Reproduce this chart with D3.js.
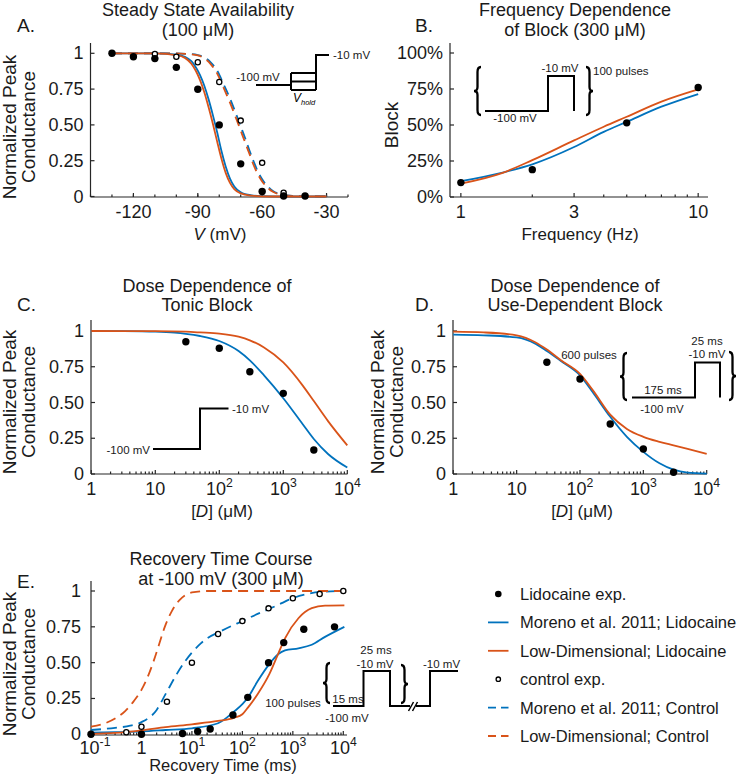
<!DOCTYPE html>
<html><head><meta charset="utf-8">
<script src="https://cdn.jsdelivr.net/npm/d3@7"></script>
<style>
body{margin:0;background:#fff}
svg{display:block}
text{font-family:"Liberation Sans",Arial,Helvetica,sans-serif;fill:#1a1a1a}
</style>
</head><body>
<svg id="c" width="738" height="774"></svg>
<script>
// ---------------- DATA ----------------
// Panel A: steady state availability (100 uM)
const A_expV      = [-130,-120,-110,-100,-90,-80,-70,-60,-50,-40];
const A_lidoExp   = [1.0,0.976,0.963,0.902,0.749,0.5,0.228,0.035,0.004,0.004];
const A_ctrlV     = [-110,-100,-90,-80,-70,-60,-50];
const A_ctrlExp   = [0.995,0.976,0.937,0.80,0.53,0.235,0.027];
const A_curveV    = [-130,-110,-100,-96,-93,-91,-89,-87,-85,-83,-81,-79,-77,-75,-73,-70,-65,-60,-50,-30];
const A_morenoLido= [1,0.999,0.99,0.975,0.945,0.905,0.85,0.775,0.68,0.57,0.45,0.32,0.21,0.125,0.07,0.03,0.008,0.002,0,0];
const A_lowLido   = [1,0.999,0.987,0.968,0.927,0.88,0.815,0.73,0.625,0.51,0.385,0.265,0.165,0.095,0.052,0.022,0.006,0.0015,0,0];
const A_ctrlCurveV= [-130,-100,-95,-90,-87,-84,-81,-78,-75,-72,-70,-68,-66,-64,-62,-60,-57,-55,-52,-50,-45,-40,-30];
const A_morenoCtrl= [1,1,0.996,0.988,0.972,0.937,0.88,0.785,0.685,0.57,0.49,0.41,0.325,0.245,0.175,0.12,0.064,0.039,0.018,0.011,0.004,0.001,0];
const A_lowCtrl   = [1,1,0.995,0.985,0.965,0.925,0.86,0.76,0.655,0.54,0.46,0.38,0.30,0.22,0.155,0.105,0.055,0.033,0.015,0.009,0.003,0.001,0];
const A_xTicks    = [-120,-90,-60,-30];
const A_xTickLabels = ["-120","-90","-60","-30"];

// Panel B: frequency dependence of block (300 uM)
const B_freq      = [1,2,5,10];
const B_lidoExp   = [0.10,0.19,0.515,0.76];
const B_curveF    = [1,1.5,2,3,4,5,7,10];
const B_moreno    = [0.11,0.17,0.227,0.347,0.452,0.522,0.627,0.715];
const B_lowDim    = [0.093,0.168,0.256,0.393,0.488,0.557,0.662,0.747];
const B_xTicks    = [1,3,10];
const B_xTickLabels = ["1","3","10"];
const B_yTickLabels = ["0%","25%","50%","75%","100%"];

// Panel C: dose dependence of tonic block
const C_dose      = [30,100,300,1000,3000];
const C_lidoExp   = [0.925,0.879,0.715,0.564,0.168];
const C_curveD_m  = [1,3,10,20,30,50,100,200,300,500,1000,2000,3000,5000,10000];
const C_moreno    = [1,0.999,0.995,0.988,0.98,0.965,0.93,0.86,0.795,0.69,0.53,0.35,0.245,0.14,0.045];
const C_curveD_l  = [1,10,30,50,100,200,300,500,1000,2000,3000,5000,10000];
const C_lowDim    = [1,0.999,0.995,0.99,0.982,0.96,0.935,0.885,0.78,0.62,0.51,0.37,0.2];

// Panel D: dose dependence of use-dependent block
const D_dose      = [30,100,300,1000,3000];
const D_lidoExp   = [0.781,0.664,0.35,0.175,0.012];
const D_curveD    = [1,3,10,20,30,50,100,160,300,550,1000,1800,3000,5000,10000];
const D_moreno    = [0.975,0.97,0.955,0.91,0.86,0.79,0.69,0.57,0.40,0.26,0.155,0.075,0.03,0.01,0.003];
const D_lowDim    = [0.995,0.99,0.97,0.92,0.87,0.795,0.70,0.585,0.415,0.315,0.26,0.225,0.2,0.175,0.14];

// Panel E: recovery time course at -100 mV (300 uM)
const E_lidoT     = [0.1,1,6.5,13,23,65,128,330,660,1650,6700];
const E_lidoExp   = [0,0,0.006,0.02,0.037,0.135,0.258,0.5,0.64,0.733,0.75];
const E_ctrlT     = [0.5,1,3.2,10,33,100,330,1000,3400,10000];
const E_ctrlExp   = [0.014,0.053,0.228,0.5,0.70,0.79,0.879,0.949,0.979,1.0];
const E_curveT_m  = [0.1,0.3,1,3,10,33,68,100,131,200,342,517,700,1290,2370,4340,10500];
const E_morenoLido= [0.012,0.015,0.02,0.03,0.042,0.077,0.158,0.21,0.26,0.37,0.49,0.56,0.585,0.6,0.625,0.68,0.75];
const E_curveT_l  = [0.1,0.3,1,3,10,33,68,100,131,200,342,517,700,1290,2370,4340,10500];
const E_lowLido   = [0.003,0.01,0.028,0.05,0.07,0.093,0.115,0.14,0.19,0.28,0.42,0.565,0.67,0.81,0.88,0.898,0.9];
const E_curveT_mc = [0.1,0.3,0.6,1,2,3,5,7,10,15,20,33,60,100,200,342,600,1000,2000,4000,10500];
const E_morenoCtrl= [0.03,0.045,0.06,0.085,0.17,0.28,0.42,0.5,0.57,0.635,0.67,0.71,0.755,0.79,0.84,0.875,0.915,0.95,0.98,0.995,1];
const E_curveT_lc = [0.1,0.2,0.3,0.47,0.7,1,1.4,1.7,2.2,2.9,4,5.8,10,20,10500];
const E_lowCtrl   = [0.053,0.08,0.11,0.16,0.23,0.31,0.42,0.5,0.62,0.75,0.86,0.94,0.99,1,1];
const E_xTicks    = [0.1,1,10,100,1000,10000];
const E_xTickLabels = ["10^-1","1","10^1","10^2","10^3","10^4"];

const CD_xTicks   = [1,10,100,1000,10000];
const CD_xTickLabels = ["1","10","10^2","10^3","10^4"];
const G_yTicks    = [0,0.25,0.5,0.75,1];
const G_yTickLabels = ["0","0.25","0.50","0.75","1"];

const LEGEND = [
  {label:"Lidocaine exp.", kind:"dot"},
  {label:"Moreno et al. 2011; Lidocaine", kind:"line", color:"blue"},
  {label:"Low-Dimensional; Lidocaine", kind:"line", color:"orange"},
  {label:"control exp.", kind:"open"},
  {label:"Moreno et al. 2011; Control", kind:"dash", color:"blue"},
  {label:"Low-Dimensional; Control", kind:"dash", color:"orange"}
];

// ---------------- STYLE ----------------
const BLUE = "#0072BD", ORANGE = "#D95319", AX = "#262626", INK = "#1a1a1a";
const COL = {blue:BLUE, orange:ORANGE};
const TITLE_FS = 18, YLAB_FS = 19, XLAB_FS = 17, TICK_FS = 18, INSET_FS = 11.5;
const svg = d3.select("#c");

function txt(g, x, y, s, size, opts = {}) {
  const t = g.append("text").attr("x", x).attr("y", y)
    .attr("font-size", size).attr("fill", INK)
    .attr("text-anchor", opts.anchor || "middle");
  if (opts.baseline) t.attr("dominant-baseline", opts.baseline);
  if (opts.italic) t.attr("font-style", "italic");
  if (opts.rotate) t.attr("transform", `rotate(-90,${x},${y})`);
  t.text(s);
  return t;
}
function supTxt(g, x, y, s, size) {
  const t = g.append("text").attr("x", x).attr("y", y).attr("font-size", size)
    .attr("fill", INK).attr("text-anchor", "middle");
  const parts = s.split("^");
  t.append("tspan").text(parts[0]);
  if (parts.length > 1) {
    t.append("tspan").attr("dy", -8).attr("font-size", size * 0.68).text(parts[1]);
  }
  return t;
}

function axes(o) {
  const g = svg.append("g").attr("stroke", AX).attr("stroke-width", 1.2);
  g.append("line").attr("x1", o.axX).attr("x2", o.axX).attr("y1", o.yTop).attr("y2", o.axY);
  g.append("line").attr("x1", o.axX).attr("x2", o.xRight).attr("y1", o.axY).attr("y2", o.axY);
  (o.xMinor || []).forEach(v => g.append("line").attr("x1", o.x(v)).attr("x2", o.x(v)).attr("y1", o.axY).attr("y2", o.axY - 2.5));
  o.xTicks.forEach(v => g.append("line").attr("x1", o.x(v)).attr("x2", o.x(v)).attr("y1", o.axY).attr("y2", o.axY - 4));
  G_yTicks.forEach(v => g.append("line").attr("y1", o.y(v)).attr("y2", o.y(v)).attr("x1", o.axX).attr("x2", o.axX + 4));
  const lg = svg.append("g");
  const off = o.tickOff || 21;
  const shift = o.firstShift || 0;
  o.xTicks.forEach((v, i) => supTxt(lg, o.x(v) + (i === 0 ? shift : 0), o.axY + off, o.xLabels[i], TICK_FS));
  G_yTicks.forEach((v, i) => txt(lg, o.axX - (o.yLabGap || 7), o.y(v), o.yLabels[i], TICK_FS, {anchor: "end", baseline: "central"}));
}
function logMinor(lo, hi) {
  const out = [];
  for (let e = Math.floor(Math.log10(lo)); e < Math.ceil(Math.log10(hi)); e++)
    for (let m = 2; m <= 9; m++) { const v = m * Math.pow(10, e); if (v > lo && v < hi) out.push(v); }
  return out;
}
function curve(x, y, xs, ys, color, dashed) {
  const pts = xs.map((d, i) => [d, ys[i]]);
  svg.append("path")
    .attr("d", d3.line().x(d => x(d[0])).y(d => y(d[1])).curve(d3.curveMonotoneX)(pts))
    .attr("fill", "none").attr("stroke", color).attr("stroke-width", 1.8)
    .attr("stroke-dasharray", dashed ? "10,6" : null);
}
function dots(x, y, xs, ys, open) {
  svg.append("g").selectAll("circle").data(xs.map((d, i) => [d, ys[i]])).join("circle")
    .attr("cx", d => x(d[0])).attr("cy", d => y(d[1]))
    .attr("r", open ? 2.6 : 3.7)
    .attr("fill", open ? "#fff" : "#000")
    .attr("stroke", open ? "#000" : "none").attr("stroke-width", 1.3);
}
function poly(pts, w = 2) {
  svg.append("path").attr("d", d3.line()(pts)).attr("fill", "none").attr("stroke", "#000").attr("stroke-width", w);
}
function brace(x, top, bot, left) {
  const w = 7, mid = (top + bot) / 2, s = left ? 1 : -1;
  const xe = x + s * w, xm = x + s * w / 2;
  const d = `M${xe},${top} Q${xm},${top} ${xm},${top + 5} L${xm},${mid - 4} Q${xm},${mid} ${x},${mid} Q${xm},${mid} ${xm},${mid + 4} L${xm},${bot - 5} Q${xm},${bot} ${xe},${bot}`;
  svg.append("path").attr("d", d).attr("fill", "none").attr("stroke", "#000").attr("stroke-width", 2.3);
}
function title(x, y1, y2, l1, l2) {
  const g = svg.append("g");
  txt(g, x, y1, l1, TITLE_FS);
  txt(g, x, y2, l2, TITLE_FS);
}
function ylab2(x1, x2, y) {
  txt(svg, x1, y, "Normalized Peak", YLAB_FS, {rotate: true, baseline: "central"});
  txt(svg, x2, y, "Conductance", YLAB_FS, {rotate: true, baseline: "central"});
}
function doseLabel(x, y) {
  const t = svg.append("text").attr("x", x).attr("y", y).attr("font-size", XLAB_FS)
    .attr("fill", INK).attr("text-anchor", "middle");
  t.append("tspan").text("[");
  t.append("tspan").attr("font-style", "italic").text("D");
  t.append("tspan").text("] (μM)");
}

// ---------------- PANEL A ----------------
const xA = d3.scaleLinear([-140, -20], [90.5, 348]);
const yA = d3.scaleLinear([0, 1], [196.5, 53.3]);
axes({x: xA, y: yA, axX: 90.5, axY: 197, yTop: 43, xRight: 348,
      xTicks: A_xTicks, xMinor: d3.range(-140, -19, 10), xLabels: A_xTickLabels, yLabels: G_yTickLabels});
curve(xA, yA, A_ctrlCurveV, A_morenoCtrl, BLUE, true);
curve(xA, yA, A_ctrlCurveV, A_lowCtrl, ORANGE, true);
curve(xA, yA, A_curveV, A_morenoLido, BLUE, false);
curve(xA, yA, A_curveV, A_lowLido, ORANGE, false);
dots(xA, yA, A_ctrlV, A_ctrlExp, true);
dots(xA, yA, A_expV, A_lidoExp, false);
title(198, 16, 35.5, "Steady State Availability", "(100 μM)");
txt(svg, 17, 32, "A.", 19, {anchor: "start"});
ylab2(9, 28, 127);
{
  const t = svg.append("text").attr("x", 220).attr("y", 240).attr("font-size", XLAB_FS)
    .attr("fill", INK).attr("text-anchor", "middle");
  t.append("tspan").attr("font-style", "italic").text("V");
  t.append("tspan").text(" (mV)");
}
// inset A
poly([[256, 85], [291, 85]]);
poly([[291, 73], [316, 73]]); poly([[291, 81.5], [316, 81.5]]); poly([[291, 90], [316, 90]]);
poly([[291, 73], [291, 90]]);
poly([[316, 90], [316, 55], [329, 55]]);
txt(svg, 258, 81, "-100 mV", INSET_FS);
txt(svg, 333, 59, "-10 mV", INSET_FS, {anchor: "start"});
{
  const t = svg.append("text").attr("x", 293).attr("y", 102).attr("font-size", 12)
    .attr("font-style", "italic").attr("fill", "#000");
  t.append("tspan").attr("fill", "#000").text("V");
  t.append("tspan").attr("fill", "#000").attr("font-size", 7.5).attr("dy", 3).text("hold");
}

// ---------------- PANEL B ----------------
const xB = d3.scaleLog([0.9, 11], [450, 708]);
const yB = d3.scaleLinear([0, 1], [197, 53]);
axes({x: xB, y: yB, axX: 450, axY: 197, yTop: 43, xRight: 708,
      xTicks: B_xTicks, xMinor: [2, 4, 5, 6, 7, 8, 9], xLabels: B_xTickLabels, yLabels: B_yTickLabels});
curve(xB, yB, B_curveF, B_moreno, BLUE, false);
curve(xB, yB, B_curveF, B_lowDim, ORANGE, false);
dots(xB, yB, B_freq, B_lidoExp, false);
title(575, 16, 35.5, "Frequency Dependence", "of Block (300 μM)");
txt(svg, 415, 32, "B.", 19, {anchor: "start"});
txt(svg, 391, 125, "Block", YLAB_FS, {rotate: true, baseline: "central"});
txt(svg, 580, 240, "Frequency (Hz)", XLAB_FS);
// inset B
brace(474, 67, 115, true);
poly([[485, 111], [548, 111], [548, 76], [574, 76], [574, 111]]);
brace(593, 67, 115, false);
txt(svg, 560, 72, "-10 mV", INSET_FS);
txt(svg, 593, 75, "100 pulses", INSET_FS, {anchor: "start"});
txt(svg, 515, 122, "-100 mV", INSET_FS);

// ---------------- PANEL C ----------------
const xC = d3.scaleLog([1, 1e4], [91.3, 347.3]);
const yC = d3.scaleLinear([0, 1], [474, 331]);
axes({x: xC, y: yC, axX: 91, axY: 474, yTop: 320, xRight: 347.5,
      xTicks: CD_xTicks, xMinor: logMinor(1, 1e4), xLabels: CD_xTickLabels, yLabels: G_yTickLabels});
curve(xC, yC, C_curveD_m, C_moreno, BLUE, false);
curve(xC, yC, C_curveD_l, C_lowDim, ORANGE, false);
dots(xC, yC, C_dose, C_lidoExp, false);
title(207, 292, 311, "Dose Dependence of", "Tonic Block");
txt(svg, 17, 311, "C.", 19, {anchor: "start"});
ylab2(9, 28, 402);
doseLabel(222, 517);
poly([[153, 449], [200, 449], [200, 408.5], [228.5, 408.5]]);
txt(svg, 150, 454, "-100 mV", INSET_FS, {anchor: "end"});
txt(svg, 232, 412.5, "-10 mV", INSET_FS, {anchor: "start"});

// ---------------- PANEL D ----------------
const xD = d3.scaleLog([1, 1e4], [453.3, 706.7]);
const yD = d3.scaleLinear([0, 1], [474, 331]);
axes({x: xD, y: yD, axX: 453, axY: 474, yTop: 320, xRight: 707,
      xTicks: CD_xTicks, xMinor: logMinor(1, 1e4), xLabels: CD_xTickLabels, yLabels: G_yTickLabels});
curve(xD, yD, D_curveD, D_moreno, BLUE, false);
curve(xD, yD, D_curveD, D_lowDim, ORANGE, false);
dots(xD, yD, D_dose, D_lidoExp, false);
title(575, 292, 311, "Dose Dependence of", "Use-Dependent Block");
txt(svg, 415, 311, "D.", 19, {anchor: "start"});
ylab2(377, 396, 402);
doseLabel(582, 517);
txt(svg, 589, 359, "600 pulses", INSET_FS);
brace(620, 353, 400, true);
poly([[632, 397.5], [695, 397.5], [695, 362.5], [720, 362.5], [720, 397.5]]);
brace(736, 352, 400, false);
txt(svg, 663, 394, "175 ms", INSET_FS);
txt(svg, 662, 413, "-100 mV", INSET_FS);
txt(svg, 707, 345, "25 ms", INSET_FS);
txt(svg, 707, 358, "-10 mV", INSET_FS);

// ---------------- PANEL E ----------------
const xE = d3.scaleLog([0.1, 1e4], [91, 343.3]);
const yE = d3.scaleLinear([0, 1], [734.3, 591]);
axes({x: xE, y: yE, axX: 91, axY: 735, yTop: 581, xRight: 347, tickOff: 18.5, firstShift: 4, yLabGap: 10,
      xTicks: E_xTicks, xMinor: logMinor(0.1, 1e4), xLabels: E_xTickLabels, yLabels: G_yTickLabels});
curve(xE, yE, E_curveT_mc, E_morenoCtrl, BLUE, true);
curve(xE, yE, E_curveT_lc, E_lowCtrl, ORANGE, true);
curve(xE, yE, E_curveT_m, E_morenoLido, BLUE, false);
curve(xE, yE, E_curveT_l, E_lowLido, ORANGE, false);
dots(xE, yE, E_ctrlT, E_ctrlExp, true);
dots(xE, yE, E_lidoT, E_lidoExp, false);
title(221, 565, 585, "Recovery Time Course", "at -100 mV (300 μM)");
txt(svg, 17, 588, "E.", 19, {anchor: "start"});
ylab2(9, 28, 664);
txt(svg, 223, 771, "Recovery Time (ms)", 16.5);
// inset E
txt(svg, 293, 707, "100 pulses", INSET_FS);
brace(323, 663, 703, true);
txt(svg, 348, 703, "15 ms", INSET_FS);
txt(svg, 347, 722, "-100 mV", INSET_FS);
poly([[333, 706], [363.5, 706], [363.5, 671], [390, 671], [390, 706], [410, 706]]);
poly([[416, 706], [430, 706], [430, 671], [458, 671]]);
poly([[408.5, 711], [413.5, 702]], 1.5);
poly([[412.5, 711], [417.5, 702]], 1.5);
brace(408, 665, 703, false);
txt(svg, 376, 654, "25 ms", INSET_FS);
txt(svg, 375, 668, "-10 mV", INSET_FS);
txt(svg, 423, 668, "-10 mV", INSET_FS, {anchor: "start"});

// ---------------- LEGEND ----------------
const legY = d3.scalePoint(d3.range(LEGEND.length), [594, 736]);
const lg = svg.append("g");
LEGEND.forEach((d, i) => {
  const y = legY(i);
  if (d.kind === "dot") lg.append("circle").attr("cx", 498.3).attr("cy", y).attr("r", 3.3).attr("fill", "#000");
  if (d.kind === "open") lg.append("circle").attr("cx", 498.3).attr("cy", y).attr("r", 2.2).attr("fill", "#fff").attr("stroke", "#000").attr("stroke-width", 1.3);
  if (d.kind === "line" || d.kind === "dash")
    lg.append("line").attr("x1", 488).attr("x2", 508.5).attr("y1", y).attr("y2", y)
      .attr("stroke", COL[d.color]).attr("stroke-width", 1.8)
      .attr("stroke-dasharray", d.kind === "dash" ? "8,5" : null);
  txt(lg, 520, y, d.label, 16.5, {anchor: "start", baseline: "central"});
});
</script>
</body></html>
